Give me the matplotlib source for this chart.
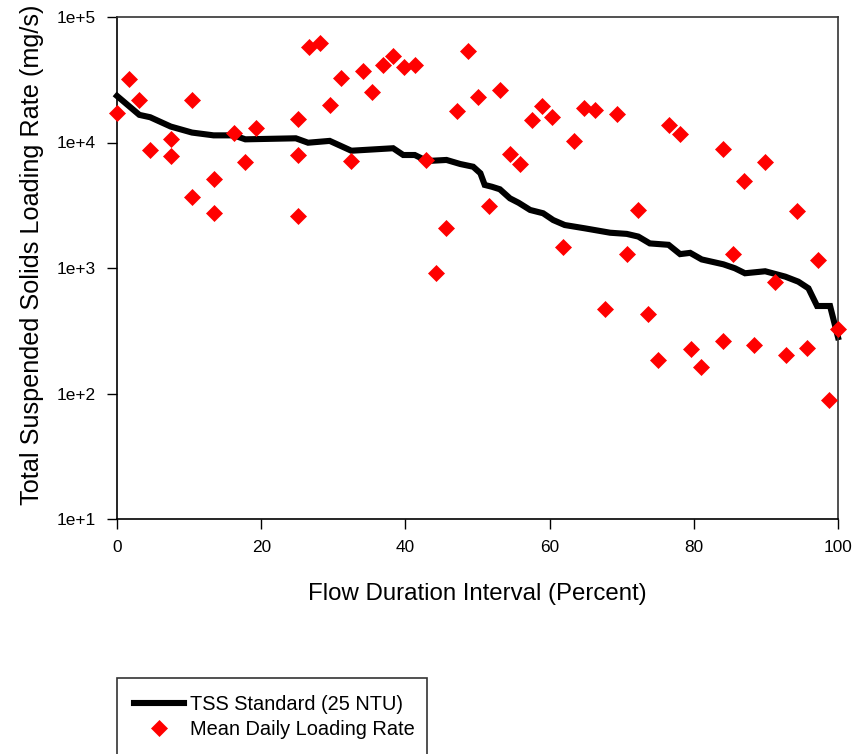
import matplotlib
matplotlib.use("Agg")
import matplotlib.pyplot as plt
from matplotlib.ticker import FixedLocator, FuncFormatter, NullLocator

plt.rcParams['font.family'] = ['Liberation Sans', 'DejaVu Sans']

# TSS standard curve (flow duration percent, mg/s)
std_x = [0, 3.1, 4.6, 7.45, 10.4, 13.4, 16.2, 17.8, 24.8, 26.5, 29.5, 32.5, 38.3, 39.7,
         41.3, 43.0, 45.7, 47.6, 49.4, 50.4, 51.0, 52.0, 53.1, 54.5, 55.7, 57.3, 59.1,
         60.5, 62.1, 64.9, 68.4, 70.7, 72.3, 73.9, 76.5, 78.1, 79.5, 81.1, 84.1, 85.7,
         87.1, 89.9, 92.7, 94.5, 95.9, 97.1, 98.9, 100]
std_y = [23500, 16600, 15900, 13400, 12000, 11400, 11400, 10600, 10800, 9960, 10300, 8600,
         9000, 7950, 7950, 7120, 7260, 6740, 6410, 5690, 4590, 4440, 4240, 3590, 3310, 2900,
         2730, 2410, 2200, 2070, 1910, 1870, 1780, 1570, 1530, 1290, 1320, 1170, 1070, 995,
         908, 942, 853, 778, 689, 498, 498, 281]

# Mean daily loading rate observations
obs_x = [0, 1.6, 3.1, 4.6, 7.5, 7.5, 10.4, 10.4, 13.4, 13.4, 16.2, 17.8, 19.3, 25.1, 25.1,
         25.1, 26.6, 28.2, 29.6, 31.0, 32.5, 34.1, 35.4, 36.9, 38.3, 39.8, 41.3, 42.8, 44.2,
         45.7, 47.2, 48.7, 50.1, 51.6, 53.1, 54.5, 55.9, 57.5, 59.0, 60.4, 61.9, 63.4, 64.8,
         66.3, 67.7, 69.3, 70.7, 72.2, 73.7, 75.1, 76.6, 78.1, 79.6, 81.0, 84.0, 84.0, 85.4,
         86.9, 88.4, 89.9, 91.3, 92.8, 94.3, 95.7, 97.2, 98.7, 100]
obs_y = [17300, 32200, 21800, 8720, 10600, 7800, 21800, 3700, 5150, 2760, 11900, 7030, 13100,
         15300, 7910, 2600, 58000, 61700, 20000, 32900, 7080, 37300, 25300, 41200, 48900,
         39700, 41200, 7300, 912, 2070, 17900, 53600, 22900, 3140, 26200, 8100, 6700, 15100,
         19500, 15900, 1460, 10300, 18900, 18200, 474, 16900, 1290, 2900, 430, 185, 13800,
         11700, 228, 164, 8830, 264, 1290, 4940, 242, 7000, 778, 201, 2860, 230, 1160, 89, 325]

x_ticks = [0, 20, 40, 60, 80, 100]
y_ticks = [10, 100, 1000, 10000, 100000]
y_tick_labels = ["1e+1", "1e+2", "1e+3", "1e+4", "1e+5"]

fig = plt.figure(figsize=(8.6, 7.54), dpi=100)
ax = fig.add_axes([117 / 860, 1 - 519 / 754, (838 - 117) / 860, (519 - 17) / 754])

line, = ax.plot(std_x, std_y, color='black', lw=4.4, solid_joinstyle='miter',
                clip_on=False, zorder=2, label='TSS Standard (25 NTU)')
pts, = ax.plot(obs_x, obs_y, linestyle='none', marker='D', ms=8, color='#ff0000',
               markeredgecolor='#ff0000', mew=0.5, clip_on=False, zorder=3,
               label='Mean Daily Loading Rate')

ax.set_yscale('log')
ax.set_xlim(0, 100)
ax.set_ylim(10, 100000)
ax.xaxis.set_major_locator(FixedLocator(x_ticks))
ax.yaxis.set_major_locator(FixedLocator(y_ticks))
ax.yaxis.set_minor_locator(NullLocator())


def ylab(v, p):
    r = int(round(v))
    return y_tick_labels[y_ticks.index(r)] if r in y_ticks else ""


ax.yaxis.set_major_formatter(FuncFormatter(ylab))
ax.tick_params(axis='both', which='major', direction='out', length=7, width=1,
               labelsize=12.4, pad=8, colors='black')
ax.tick_params(top=False, right=False)

for s in ['left', 'bottom']:
    ax.spines[s].set_linewidth(1.2)
    ax.spines[s].set_color('black')
for s in ['top', 'right']:
    ax.spines[s].set_linewidth(1.2)
    ax.spines[s].set_color('#333333')

ax.set_xlabel('Flow Duration Interval (Percent)', fontsize=17.3, labelpad=20)
ax.set_ylabel('Total Suspended Solids Loading Rate (mg/s)', fontsize=18.2)
ax.yaxis.set_label_coords(-0.101, 0.526)

leg = fig.legend(handles=[line, pts], loc='upper left',
                 bbox_to_anchor=(117 / 860, (1 - 678 / 754) - 0.01, (427 - 117) / 860, 0.01),
                 mode='expand', borderaxespad=0, prop={'size': 14.4}, frameon=True,
                 fancybox=False, handlelength=2.5, handletextpad=0.3,
                 borderpad=0.85, labelspacing=0.32)
leg.get_frame().set_edgecolor('black')
leg.get_frame().set_linewidth(1.2)

fig.savefig('out.png', dpi=100)
